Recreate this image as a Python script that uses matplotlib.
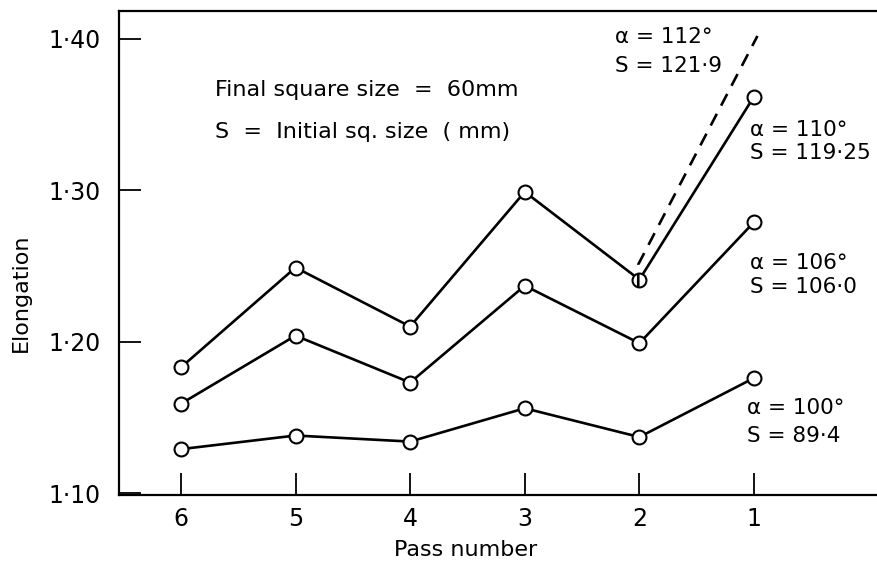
import numpy as np
import matplotlib.pyplot as plt

# pass number runs 6 -> 1, left to right
passes = [6, 5, 4, 3, 2, 1]

elong_110 = [1.183, 1.249, 1.210, 1.299, 1.241, 1.362]
elong_106 = [1.159, 1.204, 1.173, 1.237, 1.199, 1.279]
elong_100 = [1.129, 1.138, 1.134, 1.156, 1.137, 1.176]

# dashed extrapolation for alpha = 112 deg
pass_112 = [2.01, 2.01, 0.97]
elong_112 = [1.236, 1.251, 1.402]

yticks = [1.10, 1.20, 1.30, 1.40]
ytick_labels = ['1·10', '1·20', '1·30', '1·40']

labels = [
    (2.21, 1.401, 'α = 112°'), (2.21, 1.382, 'S = 121·9'),
    (1.035, 1.340, 'α = 110°'), (1.035, 1.325, 'S = 119·25'),
    (1.035, 1.252, 'α = 106°'), (1.035, 1.236, 'S = 106·0'),
    (1.06, 1.156, 'α = 100°'), (1.06, 1.138, 'S = 89·4'),
]

fig = plt.figure(figsize=(8.77, 5.68), dpi=100)
ax = fig.add_axes([119 / 877, 73 / 568, 758 / 877, 484 / 568])

style = dict(color='black', lw=1.9, marker='o', ms=10, mfc='white', mec='black', mew=1.5)
for series in (elong_110, elong_106, elong_100):
    ax.plot(passes, series, **style)

ax.plot(pass_112, elong_112, color='black', lw=1.9, dashes=(5, 3.5))

ax.set_xlim(6.54, -0.073)
ax.set_ylim(1.0987, 1.4185)
ax.set_xticks(passes)
ax.set_xticklabels([str(p) for p in passes])
ax.set_yticks(yticks)
ax.set_yticklabels(ytick_labels)
ax.tick_params(direction='in', length=16, width=1.3, labelsize=17, pad=13)
ax.tick_params(axis='x', pad=9)

ax.spines['right'].set_visible(False)
for s in ('left', 'top', 'bottom'):
    ax.spines[s].set_linewidth(1.6)

ax.text(5.703, 1.3664, 'Final square size  =  60mm', fontsize=16, va='center', ha='left')
ax.text(5.703, 1.3386, 'S  =  Initial sq. size  ( mm)', fontsize=16, va='center', ha='left')

for x, y, t in labels:
    ax.text(x, y, t, fontsize=15.5, va='center', ha='left')

fig.text(21 / 877, 1 - 293 / 568, 'Elongation', rotation=90, fontsize=16, va='center', ha='center')
fig.text(466 / 877, 1 - 550 / 568, 'Pass number', fontsize=16, va='center', ha='center')

fig.savefig('out.png', dpi=100)
